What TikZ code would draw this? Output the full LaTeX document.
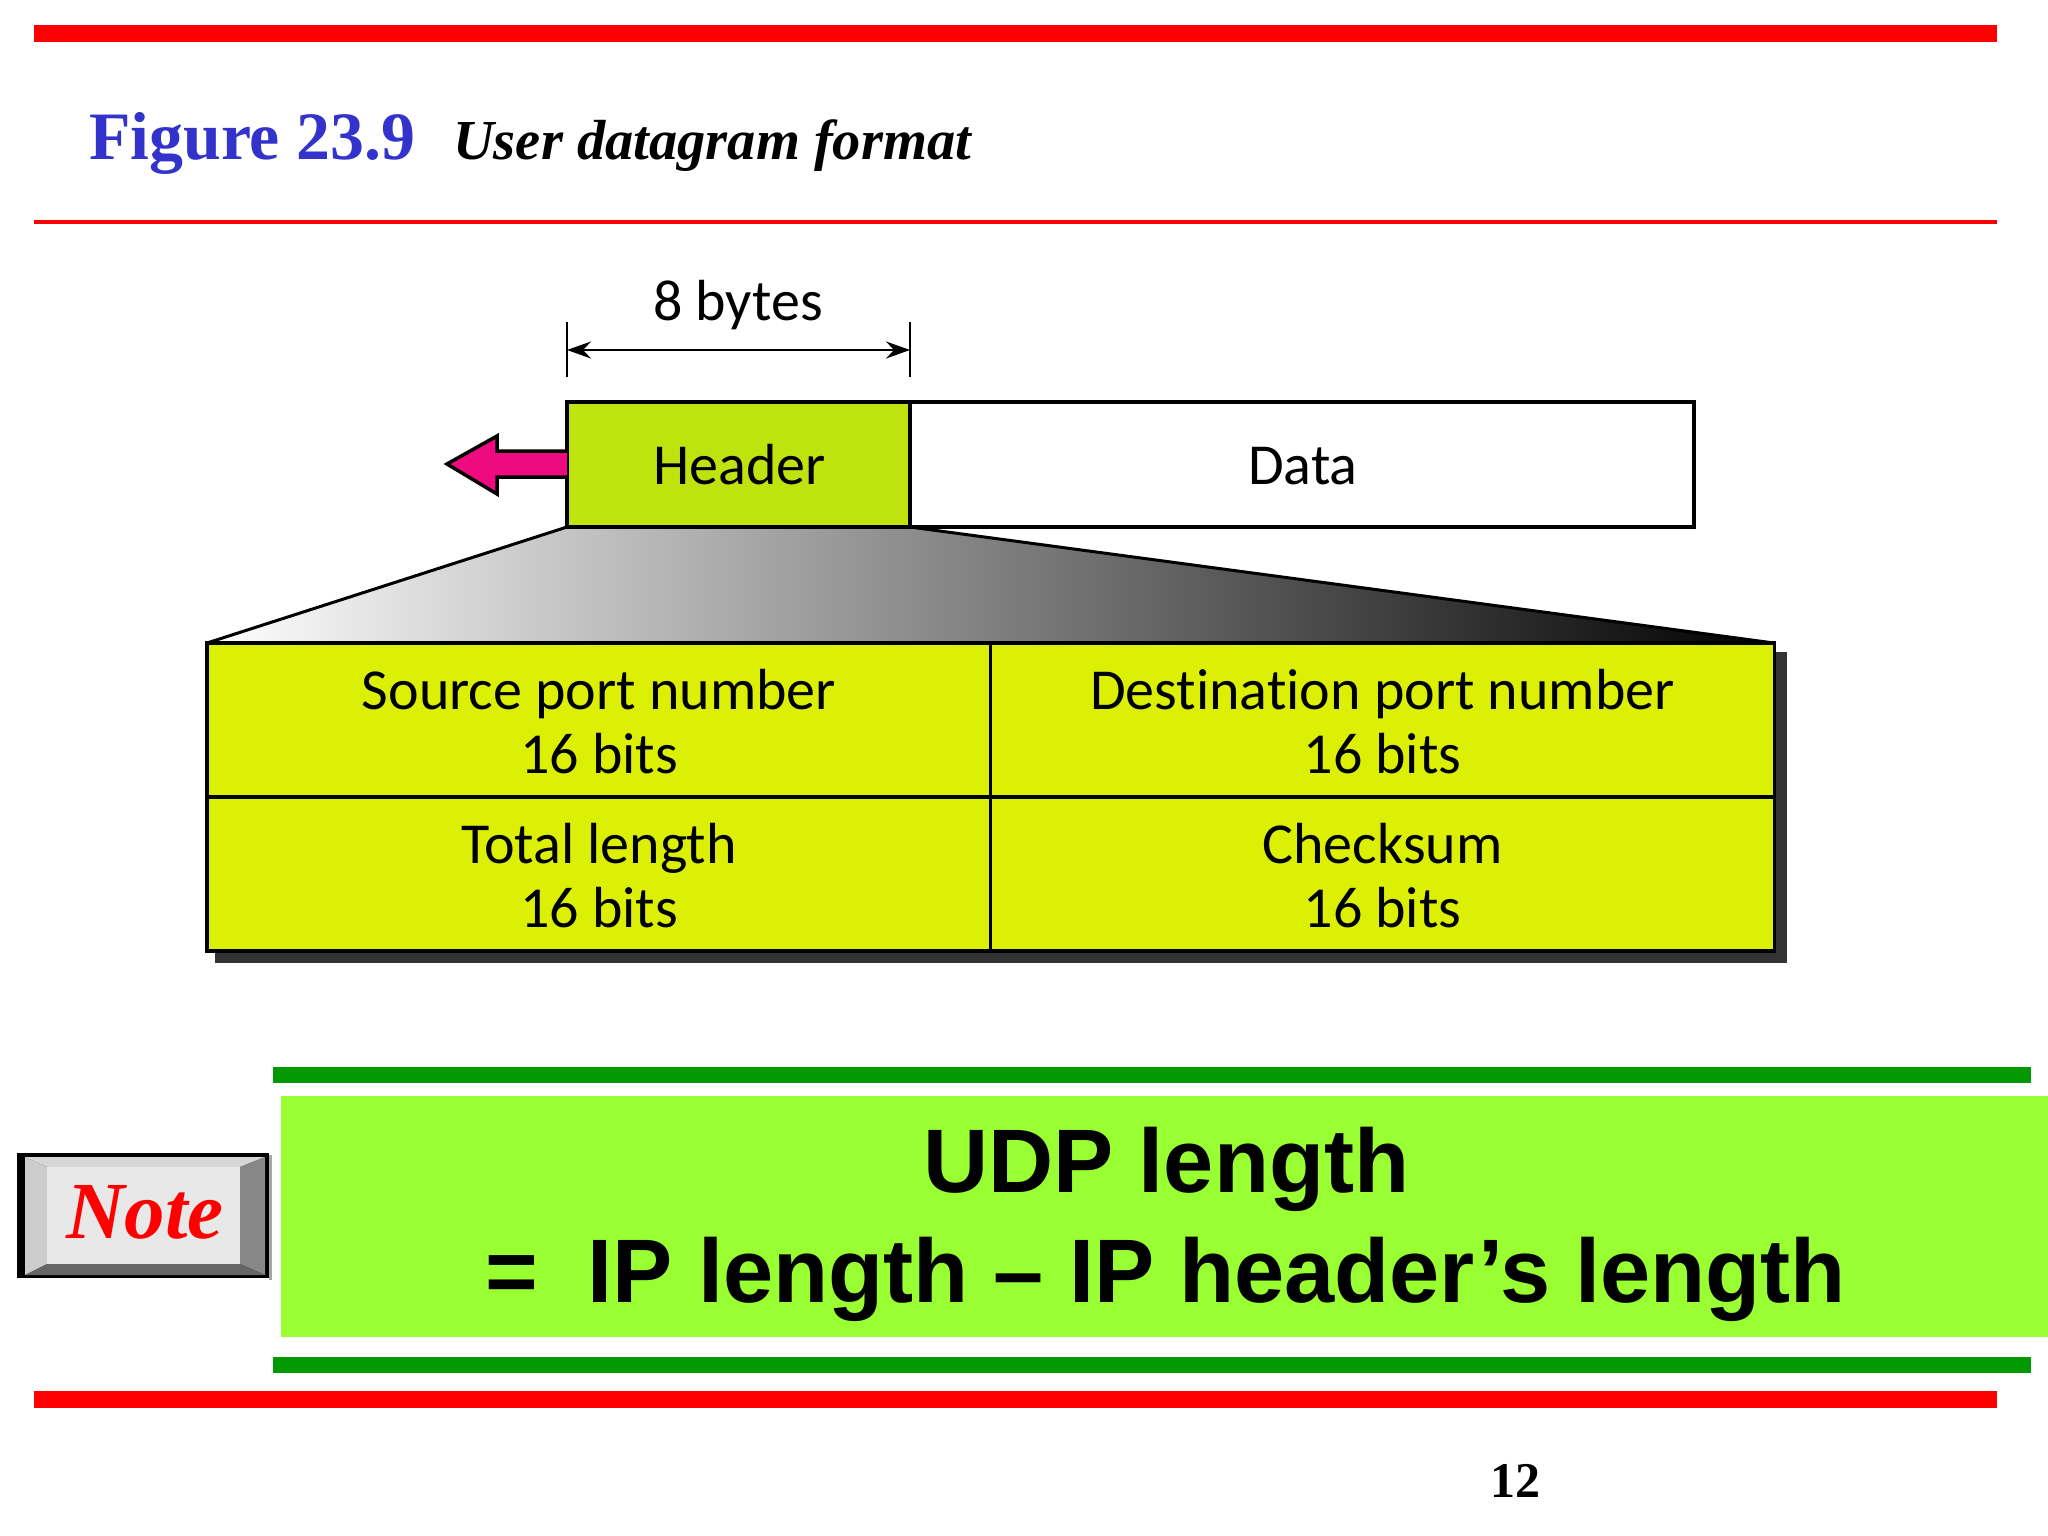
\documentclass[tikz,border=0pt]{standalone}
\usepackage{fontspec}
\setmainfont{Liberation Serif}
\newfontfamily\arialf{Liberation Sans}
\newfontfamily\myr[Ligatures=NoCommon]{Carlito}
\usetikzlibrary{arrows.meta}
\definecolor{rbar}{HTML}{FF0000}
\definecolor{gbar}{HTML}{009900}
\definecolor{lgreen}{HTML}{99FF33}
\definecolor{hdrc}{HTML}{BFE30E}
\definecolor{cellc}{HTML}{DCF005}
\definecolor{pinkc}{HTML}{EE0A7F}
\definecolor{titleblue}{HTML}{3333CC}
\definecolor{shadowc}{HTML}{333333}
\newcommand{\cellstrut}{\rule{0pt}{44pt}}
\tikzset{
  rule/.style={fill=#1,draw=none},
  boxtext/.style={font=\myr\fontsize{58}{64}\selectfont,text=black,inner sep=0pt,align=center},
  cell/.style={draw=black,line width=3.5pt,fill=cellc,minimum width=784pt,minimum height=154pt,inner sep=0pt,outer sep=0pt,anchor=center,boxtext},
  pkt/.style={draw=black,line width=3.5pt,minimum height=125pt,inner sep=0pt,outer sep=0pt,boxtext,text height=40.5pt,text depth=0pt},
  sumtext/.style={font=\arialf\bfseries\fontsize{90.2}{90}\selectfont,text=black,inner sep=0pt,anchor=base},
}
\begin{document}
\begin{tikzpicture}[x=1pt,y=-1pt]
\useasboundingbox (0,0) rectangle (2048,1536);
\fill[white] (0,0) rectangle (2048,1536);
% rules
\fill[rule=rbar] (34,25) rectangle (1997,42);
\fill[rule=rbar] (34,220) rectangle (1997,224);
\fill[rule=rbar] (34,1391) rectangle (1997,1408);
% title
\node[anchor=base west,inner sep=0pt,text=titleblue,font=\bfseries\fontsize{67.8}{67}\selectfont] (figno) at (89,160) {Figure 23.9};
\node[anchor=base west,inner sep=0pt,text=black,font=\bfseries\itshape\fontsize{56.5}{56}\selectfont] (figtitle) at (453,160) {User datagram format};
% gradient
\shade[left color=white,right color=black] (567,527) -- (910,527) -- (1774,643) -- (207,643) -- cycle;
\draw[black,line width=3pt,line join=miter] (207,643) -- (567,527);
\draw[black,line width=3pt,line join=miter] (910,527) -- (1774,643);
% shadow
\fill[shadowc] (215,652) rectangle (1787,963);
% packet
\node[pkt,fill=white,minimum width=784pt,anchor=west] (data) at (910,464.5) {\hspace*{2pt}Data};
\node[pkt,fill=hdrc,minimum width=343pt,anchor=west] (hdr) at (567,464.5) {\hspace*{2pt}Header};
% pink arrow
\draw[black,line width=3.5pt,fill=pinkc,line join=miter] (hdr.west |- 0,451) -- (497,451) -- (497,436) -- (447,464) -- (497,494) -- (497,477) -- (hdr.west |- 0,477);
% dimension
\coordinate (dl) at (567,350);
\coordinate (dr) at (910,350);
\draw[black,line width=2.5pt] (567,322) -- (567,377);
\draw[black,line width=2.5pt] (910,322) -- (910,377);
\draw[black,line width=2pt,{Stealth[length=24pt,width=17pt,inset=8pt]}-{Stealth[length=24pt,width=17pt,inset=8pt]}] (dl) -- (dr);
\node[boxtext,anchor=base] (bytes) at (738,320) {8 bytes};
% table
\node[cell] (c1) at (599,720) {\cellstrut Source port number\\16 bits};
\node[cell] (c2) at (1382.5,720) {\cellstrut Destination port number\\16 bits};
\node[cell] (c3) at (599,874) {\cellstrut Total length\\16 bits};
\node[cell] (c4) at (1382.5,874) {\cellstrut Checksum\\16 bits};
% note section
\fill[rule=gbar] (273,1067) rectangle (2031,1083);
\fill[rule=gbar] (273,1357) rectangle (2031,1373);
\fill[lgreen] (281,1096) rectangle (2048,1337);
\node[sumtext] (s1) at (1166.5,1192) {UDP length};
\node[sumtext] (s2) at (1165.5,1302) {=\ \ IP length – IP header’s length};
% note button
\fill[black] (17,1153) rectangle (269,1278);
\fill[gray!70!white] (269,1155) rectangle (272,1280);
\fill[black!20] (25,1157) -- (47,1167) -- (47,1264) -- (25,1275) -- cycle;
\fill[black!16] (25,1157) -- (265,1157) -- (240,1167) -- (47,1167) -- cycle;
\fill[black!47] (265,1157) -- (265,1275) -- (240,1264) -- (240,1167) -- cycle;
\fill[black!60] (25,1275) -- (47,1264) -- (240,1264) -- (265,1275) -- cycle;
\fill[black!9] (47,1167) rectangle (240,1264);
\node[anchor=base,inner sep=0pt,text=rbar,font=\bfseries\itshape\fontsize{81}{81}\selectfont] (note) at (145,1238) {Note};
% page number
\node[anchor=base,inner sep=0pt,text=black,font=\bfseries\fontsize{50}{50}\selectfont] (pg) at (1515,1497) {12};
\end{tikzpicture}
\end{document}
